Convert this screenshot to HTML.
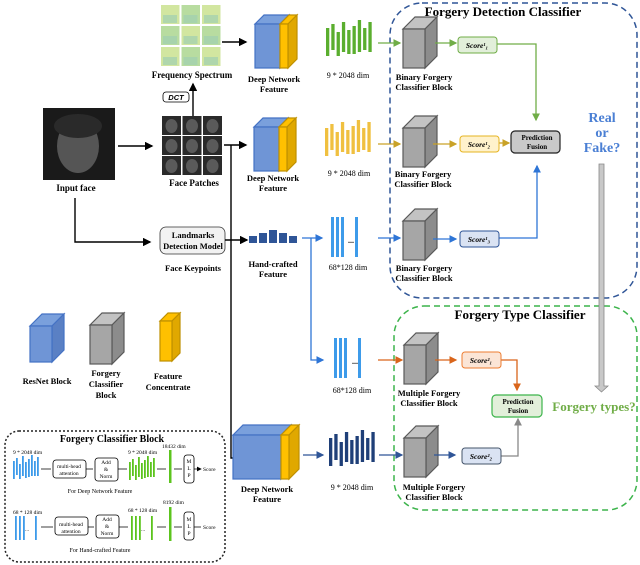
<!DOCTYPE html>
<html><head><meta charset="utf-8"><style>
html,body{margin:0;padding:0;background:#fff;}
svg{display:block;font-family:"Liberation Serif",serif;}
.b{font-weight:bold;}
</style></head><body>
<svg id="s" width="640" height="565" viewBox="0 0 640 565" xmlns="http://www.w3.org/2000/svg">
<defs>
<marker id="ak" markerWidth="6" markerHeight="6" refX="5" refY="3" orient="auto"><path d="M0,0L6,3L0,6z" fill="#000"/></marker>
<marker id="ag" markerWidth="6" markerHeight="6" refX="5" refY="3" orient="auto"><path d="M0,0L6,3L0,6z" fill="#70ad47"/></marker>
<marker id="ay" markerWidth="6" markerHeight="6" refX="5" refY="3" orient="auto"><path d="M0,0L6,3L0,6z" fill="#c9a227"/></marker>
<marker id="ab" markerWidth="6" markerHeight="6" refX="5" refY="3" orient="auto"><path d="M0,0L6,3L0,6z" fill="#2e75d6"/></marker>
<marker id="ao" markerWidth="6" markerHeight="6" refX="5" refY="3" orient="auto"><path d="M0,0L6,3L0,6z" fill="#d9651b"/></marker>
<marker id="ad" markerWidth="6" markerHeight="6" refX="5" refY="3" orient="auto"><path d="M0,0L6,3L0,6z" fill="#2f5597"/></marker>
<marker id="ar" markerWidth="6" markerHeight="6" refX="5" refY="3" orient="auto"><path d="M0,0L6,3L0,6z" fill="#888"/></marker>
</defs>

<!-- dashed classifier boxes -->
<rect x="390" y="3" width="247" height="295" rx="32" fill="none" stroke="#2f5597" stroke-width="1.5" stroke-dasharray="6,4"/>
<rect x="394" y="306" width="243" height="204" rx="30" fill="none" stroke="#3cb44b" stroke-width="1.5" stroke-dasharray="6,4"/>
<rect x="5" y="431" width="220" height="131" rx="14" fill="none" stroke="#222" stroke-width="1.5" stroke-dasharray="2,2"/>

<!-- input face -->
<rect x="43" y="108" width="72" height="72" fill="#1a1a1a"/>
<ellipse cx="78" cy="146" rx="21" ry="27" fill="#555"/>
<ellipse cx="78" cy="126" rx="24" ry="12" fill="#2a2a2a"/>
<text x="76" y="191" font-size="9" class="b" text-anchor="middle">Input face</text>

<g id="patches"></g>
<text x="194" y="186" font-size="9" class="b" text-anchor="middle">Face Patches</text>
<text x="192" y="78" font-size="9" class="b" text-anchor="middle">Frequency Spectrum</text>
<rect x="163" y="92" width="26" height="10" rx="3" fill="#fff" stroke="#000" stroke-width="0.8"/>
<text x="176" y="100" font-size="7.5" font-style="italic" class="b" text-anchor="middle" font-family="Liberation Sans">DCT</text>

<!-- landmarks -->
<rect x="160" y="227" width="65" height="27" rx="6" fill="#f2f2f2" stroke="#333" stroke-width="0.8"/>
<text x="193" y="238" font-size="8.5" class="b" text-anchor="middle">Landmarks</text>
<text x="193" y="249" font-size="8.5" class="b" text-anchor="middle">Detection Model</text>
<text x="193" y="271" font-size="8.5" class="b" text-anchor="middle">Face Keypoints</text>

<!-- black arrows -->
<g stroke="#000" stroke-width="1.4" fill="none">
<path d="M118,146H152" marker-end="url(#ak)"/>
<path d="M193,116V84" marker-end="url(#ak)"/>
<path d="M222,42H246" marker-end="url(#ak)"/>
<path d="M224,145H246" marker-end="url(#ak)"/>
<path d="M75,198V242H150" marker-end="url(#ak)"/>
<path d="M225,240H247" marker-end="url(#ak)"/>
<path d="M231,145V458H250" marker-end="url(#ak)"/>
</g>

<text x="274" y="82" font-size="8.5" class="b" text-anchor="middle">Deep Network</text>
<text x="274" y="92" font-size="8.5" class="b" text-anchor="middle">Feature</text>
<text x="273" y="181" font-size="8.5" class="b" text-anchor="middle">Deep Network</text>
<text x="273" y="191" font-size="8.5" class="b" text-anchor="middle">Feature</text>
<rect x="249" y="236" width="8" height="7" fill="#2f5597"/>
<rect x="259" y="233" width="8" height="10" fill="#2f5597"/>
<rect x="269" y="230" width="8" height="13" fill="#2f5597"/>
<rect x="279" y="233" width="8" height="10" fill="#2f5597"/>
<rect x="289" y="236" width="8" height="7" fill="#2f5597"/>
<text x="273" y="267" font-size="8.5" class="b" text-anchor="middle">Hand-crafted</text>
<text x="273" y="277" font-size="8.5" class="b" text-anchor="middle">Feature</text>
<text x="267" y="492" font-size="8.5" class="b" text-anchor="middle">Deep Network</text>
<text x="267" y="502" font-size="8.5" class="b" text-anchor="middle">Feature</text>

<g id="shapes"></g>

<!-- feature labels -->
<text x="348" y="78" font-size="8" text-anchor="middle">9 * 2048 dim</text>
<text x="349" y="176" font-size="8" text-anchor="middle">9 * 2048 dim</text>
<text x="348" y="270" font-size="8" text-anchor="middle">68*128 dim</text>
<text x="352" y="393" font-size="8" text-anchor="middle">68*128 dim</text>
<text x="352" y="490" font-size="8" text-anchor="middle">9 * 2048 dim</text>
<text x="351" y="243" font-size="8" class="b" text-anchor="middle">...</text>
<text x="355" y="364" font-size="8" class="b" text-anchor="middle">...</text>

<!-- colored arrows -->
<g fill="none" stroke-width="1.3">
<path d="M378,43H400" stroke="#70ad47" marker-end="url(#ag)"/>
<path d="M435,43H456" stroke="#70ad47" marker-end="url(#ag)"/>
<path d="M497,44H536V120" stroke="#70ad47" marker-end="url(#ag)"/>
<path d="M378,144H400" stroke="#c9a227" marker-end="url(#ay)"/>
<path d="M433,144H456" stroke="#c9a227" marker-end="url(#ay)"/>
<path d="M499,143H509" stroke="#c9a227" marker-end="url(#ay)"/>
<path d="M302,238H322" stroke="#2e75d6" marker-end="url(#ab)"/>
<path d="M311,238V360H323" stroke="#2e75d6" marker-end="url(#ab)"/>
<path d="M378,238H400" stroke="#2e75d6" marker-end="url(#ab)"/>
<path d="M433,239H456" stroke="#2e75d6" marker-end="url(#ab)"/>
<path d="M499,238H537V166" stroke="#2e75d6" marker-end="url(#ab)"/>
<path d="M378,360H402" stroke="#d9651b" marker-end="url(#ao)"/>
<path d="M435,360H456" stroke="#d9651b" marker-end="url(#ao)"/>
<path d="M501,360H517V390" stroke="#d9651b" marker-end="url(#ao)"/>
<path d="M303,455H323" stroke="#2f5597" marker-end="url(#ad)"/>
<path d="M379,455H402" stroke="#2f5597" marker-end="url(#ad)"/>
<path d="M434,455H455" stroke="#2f5597" marker-end="url(#ad)"/>
<path d="M501,456H518V419" stroke="#888" marker-end="url(#ar)"/>
</g>

<!-- score boxes -->
<rect x="458" y="37" width="39" height="16" rx="3" fill="#e2efda" stroke="#70ad47"/>
<text x="477" y="48" font-size="7.5" font-style="italic" class="b" text-anchor="middle">Score¹₁</text>
<rect x="460" y="136" width="39" height="16" rx="3" fill="#fff2cc" stroke="#e6b422"/>
<text x="479" y="147" font-size="7.5" font-style="italic" class="b" text-anchor="middle">Score¹₂</text>
<rect x="460" y="231" width="39" height="16" rx="3" fill="#dae3f3" stroke="#2f5597"/>
<text x="479" y="242" font-size="7.5" font-style="italic" class="b" text-anchor="middle">Score¹₃</text>
<rect x="462" y="352" width="39" height="16" rx="3" fill="#fbe5d6" stroke="#ed7d31"/>
<text x="481" y="363" font-size="7.5" font-style="italic" class="b" text-anchor="middle">Score²₁</text>
<rect x="462" y="448" width="39" height="16" rx="3" fill="#dae3f3" stroke="#44546a"/>
<text x="481" y="459" font-size="7.5" font-style="italic" class="b" text-anchor="middle">Score²₂</text>

<rect x="511" y="131" width="49" height="22" rx="4" fill="#c9c9c9" stroke="#222" stroke-width="1.2"/>
<text x="537" y="140" font-size="7" class="b" text-anchor="middle">Prediction</text>
<text x="537" y="149" font-size="7" class="b" text-anchor="middle">Fusion</text>
<rect x="492" y="395" width="50" height="22" rx="4" fill="#e2efda" stroke="#3cb44b" stroke-width="1.2"/>
<text x="518" y="404" font-size="7" class="b" text-anchor="middle">Prediction</text>
<text x="518" y="413" font-size="7" class="b" text-anchor="middle">Fusion</text>

<!-- block labels -->
<text x="424" y="80" font-size="8.5" class="b" text-anchor="middle">Binary  Forgery</text>
<text x="424" y="90" font-size="8.5" class="b" text-anchor="middle">Classifier Block</text>
<text x="423" y="177" font-size="8.5" class="b" text-anchor="middle">Binary  Forgery</text>
<text x="423" y="187" font-size="8.5" class="b" text-anchor="middle">Classifier Block</text>
<text x="424" y="271" font-size="8.5" class="b" text-anchor="middle">Binary  Forgery</text>
<text x="424" y="281" font-size="8.5" class="b" text-anchor="middle">Classifier Block</text>
<text x="429" y="396" font-size="8.5" class="b" text-anchor="middle">Multiple Forgery</text>
<text x="429" y="406" font-size="8.5" class="b" text-anchor="middle">Classifier Block</text>
<text x="434" y="490" font-size="8.5" class="b" text-anchor="middle">Multiple Forgery</text>
<text x="434" y="500" font-size="8.5" class="b" text-anchor="middle">Classifier Block</text>

<text x="503" y="16" font-size="13" class="b" text-anchor="middle">Forgery Detection Classifier</text>
<text x="520" y="319" font-size="13" class="b" text-anchor="middle">Forgery Type Classifier</text>
<text x="602" y="122" font-size="14" class="b" fill="#4a7fd4" text-anchor="middle">Real</text>
<text x="602" y="137" font-size="14" class="b" fill="#4a7fd4" text-anchor="middle">or</text>
<text x="602" y="152" font-size="14" class="b" fill="#4a7fd4" text-anchor="middle">Fake?</text>
<text x="594" y="411" font-size="13" class="b" fill="#70ad47" text-anchor="middle">Forgery types?</text>
<path d="M599,164H604V386H608L601.5,392L595,386H599Z" fill="#c8c8c8" stroke="#888" stroke-width="0.8"/>

<!-- legend -->
<text x="47" y="384" font-size="8.5" class="b" text-anchor="middle">ResNet Block</text>
<text x="106" y="376" font-size="8.5" class="b" text-anchor="middle">Forgery</text>
<text x="106" y="387" font-size="8.5" class="b" text-anchor="middle">Classifier</text>
<text x="106" y="398" font-size="8.5" class="b" text-anchor="middle">Block</text>
<text x="168" y="379" font-size="8.5" class="b" text-anchor="middle">Feature</text>
<text x="168" y="390" font-size="8.5" class="b" text-anchor="middle">Concentrate</text>

<!-- forgery classifier block -->
<text x="112" y="442" font-size="10" class="b" text-anchor="middle">Forgery Classifier Block</text>
<g font-size="5.5" font-family="Liberation Serif">
<text x="13" y="454">9 * 2048 dim</text>
<text x="128" y="454">9 * 2048 dim</text>
<text x="162" y="448">18432 dim</text>
<text x="13" y="514">68 * 128 dim</text>
<text x="128" y="512">68 * 128 dim</text>
<text x="163" y="504">8192 dim</text>
<text x="69" y="468" text-anchor="middle">multi-head</text>
<text x="69" y="475" text-anchor="middle">attention</text>
<text x="106" y="464" text-anchor="middle">Add</text>
<text x="106" y="471" text-anchor="middle">&amp;</text>
<text x="106" y="478" text-anchor="middle">Norm</text>
<text x="71" y="526" text-anchor="middle">multi-head</text>
<text x="71" y="533" text-anchor="middle">attention</text>
<text x="107" y="521" text-anchor="middle">Add</text>
<text x="107" y="528" text-anchor="middle">&amp;</text>
<text x="107" y="535" text-anchor="middle">Norm</text>
<text x="189" y="463" text-anchor="middle">M</text><text x="189" y="470" text-anchor="middle">L</text><text x="189" y="477" text-anchor="middle">P</text>
<text x="189" y="521" text-anchor="middle">M</text><text x="189" y="528" text-anchor="middle">L</text><text x="189" y="535" text-anchor="middle">P</text>
<text x="203" y="471">Score</text>
<text x="203" y="529">Score</text>
<text x="100" y="493" font-size="6" text-anchor="middle">For Deep Network Feature</text>
<text x="100" y="552" font-size="6" text-anchor="middle">For Hand-crafted Feature</text>
<text x="27" y="531" text-anchor="middle">...</text>
<text x="143" y="531" text-anchor="middle">...</text>
</g>
<g fill="none" stroke="#000" stroke-width="0.8">
<rect x="53" y="460" width="33" height="18" rx="3"/>
<rect x="95" y="458" width="23" height="23" rx="3"/>
<rect x="184" y="455" width="10" height="28" rx="3"/>
<rect x="55" y="517" width="33" height="18" rx="3"/>
<rect x="96" y="515" width="23" height="23" rx="3"/>
<rect x="184" y="512" width="10" height="28" rx="3"/>
<path d="M41,469H51M86,469H93M118,469H127M157,469H166M174,469H182M194,469H201" marker-end="url(#ak)"/>
<path d="M41,527H53M88,527H94M119,527H128M157,527H166M174,527H182M194,527H201"/>
</g>
<rect x="169" y="450" width="2.5" height="33" fill="#5cc41e"/>
<rect x="169" y="507" width="2.5" height="34" fill="#5cc41e"/>
</svg>
<script>
var s=document.getElementById('shapes'),NS='http://www.w3.org/2000/svg';
function el(t,a,p){var e=document.createElementNS(NS,t);for(var k in a)e.setAttribute(k,a[k]);(p||s).appendChild(e);return e;}
function cube(x,y,w,h,d,f,t,sd,st){
 el('polygon',{points:[x,y+d,x+d,y,x+w+d,y,x+w,y+d].join(','),fill:t,stroke:st,'stroke-width':1.2});
 el('polygon',{points:[x+w,y+d,x+w+d,y,x+w+d,y+h,x+w,y+h+d].join(','),fill:sd,stroke:st,'stroke-width':1.2});
 el('rect',{x:x,y:y+d,width:w,height:h,fill:f,stroke:st,'stroke-width':1.2});
}
function deep(x,y,w,h,d){cube(x,y,w-8,h,d,'#6f95d6','#7aa0dc','#5a80c4','#4472c4');cube(x+w-8,y,8,h,d,'#ffc000','#ffc000','#e0a800','#bf9000');}
deep(255,15,33,44,9);deep(254,118,33,44,9);deep(233,425,56,44,10);
function gray(x,y){cube(x,y,22,39,12,'#a6a6a6','#c3c3c3','#8c8c8c','#595959');}
gray(403,17);gray(403,116);gray(403,209);gray(404,333);gray(404,426);
cube(30,314,22,36,12,'#6f95d6','#7aa0dc','#5a80c4','#4472c4');
gray(90,313);
cube(160,313,12,40,8,'#ffc000','#ffc000','#e0a800','#bf9000');
function bars(x,y,n,step,w,c,tops,hs){for(var i=0;i<n;i++)el('rect',{x:x+i*step,y:y+tops[i%tops.length],width:w,height:hs[i%hs.length],fill:c});}
var T=[8,4,12,2,10,6,0,8,2],H=[28,26,24,30,24,28,32,22,30];
bars(326,20,9,5.3,3.3,'#5aae2e',T,H);
bars(325,120,9,5.3,3.3,'#f0c040',T,H);
bars(329,430,9,5.3,3.3,'#1f3f78',T,H);
function lb(x,y,h,c){[0,5,10,24].forEach(function(o){el('rect',{x:x+o,y:y,width:3,height:h,fill:c});});}
lb(331,217,40,'#3d9bea');lb(334,338,40,'#3d9bea');
// mini bars
var t2=[6,3,9,1,7,4,0,6,2],h2=[18,17,15,20,16,18,21,15,19];
bars(13,455,9,3,1.8,'#3d9bea',t2,h2);
bars(129,456,9,3,1.8,'#5cc41e',t2,h2);
[0,4,8,20].forEach(function(o){el('rect',{x:15+o,y:516,width:1.8,height:24,fill:'#3d9bea'});el('rect',{x:131+o,y:516,width:1.8,height:24,fill:'#5cc41e'});});
// patches
var p=document.getElementById('patches');
for(var r=0;r<3;r++)for(var c=0;c<3;c++){
 el('rect',{x:162+c*20.5,y:116+r*20,width:19,height:19,fill:'#2a2a2a'},p);
 el('ellipse',{cx:171.5+c*20.5,cy:126+r*20,rx:6,ry:7,fill:'#5a5a5a'},p);
 el('rect',{x:161+c*20.5,y:5+r*21,width:18.5,height:19,fill:(r+c)%2?'#b8dca0':'#d2e6a0'},p);
 el('rect',{x:163+c*20.5,y:15+r*21,width:14,height:8,fill:'#9fcfb0',opacity:0.7},p);
}
</script>
</body></html>
